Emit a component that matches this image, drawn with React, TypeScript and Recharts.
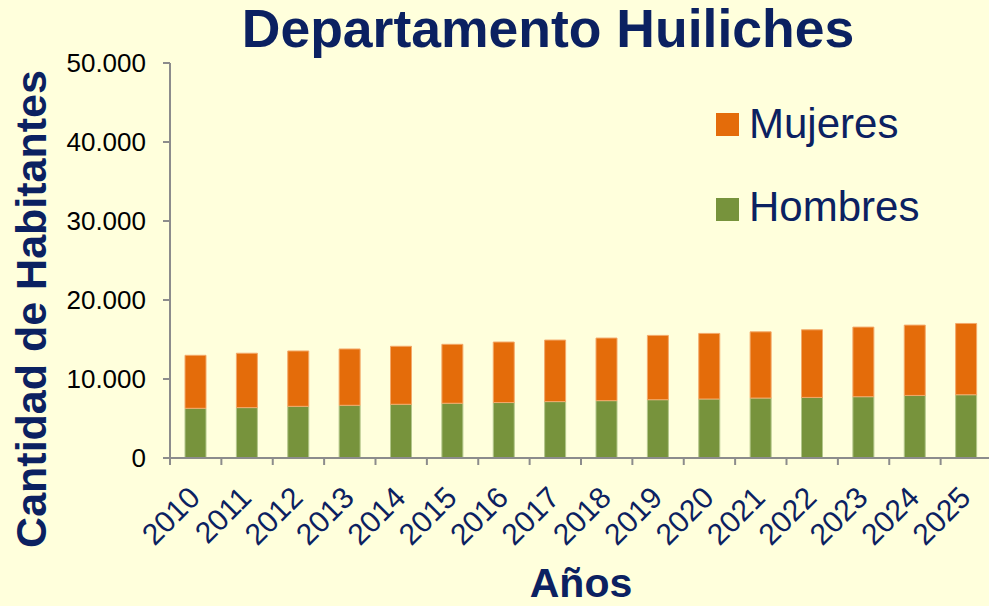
import React from 'react';
import { BarChart, Bar, XAxis, YAxis, Legend } from 'recharts';

const years = ['2010','2011','2012','2013','2014','2015','2016','2017','2018','2019','2020','2021','2022','2023','2024','2025'];
const hombres = [6290, 6380, 6540, 6670, 6800, 6930, 7020, 7140, 7260, 7380, 7470, 7590, 7670, 7760, 7920, 8010];
const mujeres = [6710, 6880, 7010, 7130, 7340, 7460, 7660, 7790, 7920, 8140, 8300, 8380, 8560, 8810, 8900, 9020];
const yTicks = [0, 10000, 20000, 30000, 40000, 50000];

const data = years.map((y, i) => ({ year: y, Hombres: hombres[i], Mujeres: mujeres[i] }));

const NAVY = '#0B2161';
const ORANGE = '#E46C0A';
const GREEN = '#77933C';
const AXIS = '#8C8C8C';
const FONT = '"Liberation Sans", Arial, sans-serif';

const fmt = (v: number) => (v === 0 ? '0' : v.toLocaleString('de-DE'));

const XTick = (props: any) => {
  const { x, y, payload, index, width } = props;
  const band = width / years.length;
  const left = x - band / 2;
  const right = x + band / 2;
  const tx = x + 6;
  const ty = y + 41.5;
  return (
    <g>
      <line x1={left} x2={left} y1={y} y2={y + 7} stroke={AXIS} strokeWidth={2} />
      {index === years.length - 1 && (
        <line x1={right} x2={right} y1={y} y2={y + 7} stroke={AXIS} strokeWidth={2} />
      )}
      <text
        x={tx}
        y={ty}
        transform={`rotate(-45, ${tx}, ${ty})`}
        textAnchor="end"
        fill={NAVY}
        fontSize={30}
        fontFamily={FONT}
      >
        {payload.value}
      </text>
    </g>
  );
};

const LegendContent = (props: any) => {
  const items = [...(props.payload || [])].reverse();
  return (
    <svg width={240} height={140} style={{ display: 'block' }}>
      {items.map((it: any, i: number) => (
        <g key={it.value}>
          <rect x={5} y={13 + i * 85} width={23} height={23} fill={it.color} />
          <text x={38} y={38 + i * 83} fontSize={42} fill={NAVY} fontFamily={FONT}>
            {it.value}
          </text>
        </g>
      ))}
    </svg>
  );
};

export default function App() {
  return (
    <div
      style={{
        position: 'absolute',
        left: 0,
        top: 0,
        width: 989,
        height: 606,
        overflow: 'hidden',
        background: '#FFFFDC',
        fontFamily: FONT,
      }}
    >
      <BarChart
        width={993}
        height={606}
        data={data}
        margin={{ top: 63, right: 1, bottom: 0, left: 0 }}
        barSize={21}
      >
        <XAxis
          dataKey="year"
          height={148}
          interval={0}
          tickLine={false}
          tickSize={0}
          tickMargin={0}
          axisLine={{ stroke: AXIS, strokeWidth: 2 }}
          tick={<XTick />}
        />
        <YAxis
          width={170}
          domain={[0, 50000]}
          ticks={yTicks}
          interval={0}
          tickFormatter={fmt}
          tickSize={7}
          tickMargin={17}
          axisLine={{ stroke: AXIS, strokeWidth: 2 }}
          tickLine={{ stroke: AXIS, strokeWidth: 2 }}
          tick={{ fill: '#000000', fontSize: 26, fontFamily: FONT }}
        />
        <Legend
          layout="vertical"
          align="center"
          verticalAlign="middle"
          wrapperStyle={{ left: 711, top: 100, width: 240 }}
          content={<LegendContent />}
        />
        <Bar dataKey="Hombres" stackId="a" fill={GREEN} stroke="#B3C68A" strokeWidth={1} isAnimationActive={false} />
        <Bar dataKey="Mujeres" stackId="a" fill={ORANGE} stroke="#F3A96A" strokeWidth={1} isAnimationActive={false} />
      </BarChart>
      <svg
        width={989}
        height={606}
        style={{ position: 'absolute', left: 0, top: 0, pointerEvents: 'none' }}
      >
        <text x={548} y={47} textAnchor="middle" fontSize={53.5} fontWeight="bold" fill={NAVY} fontFamily={FONT}>
          Departamento Huiliches
        </text>
        <text
          x={46}
          y={309}
          transform="rotate(-90, 46, 309)"
          textAnchor="middle"
          fontSize={43}
          fontWeight="bold"
          fill={NAVY}
          fontFamily={FONT}
        >
          Cantidad de Habitantes
        </text>
        <text x={581} y={597} textAnchor="middle" fontSize={41} fontWeight="bold" fill={NAVY} fontFamily={FONT}>
          Años
        </text>
      </svg>
    </div>
  );
}
